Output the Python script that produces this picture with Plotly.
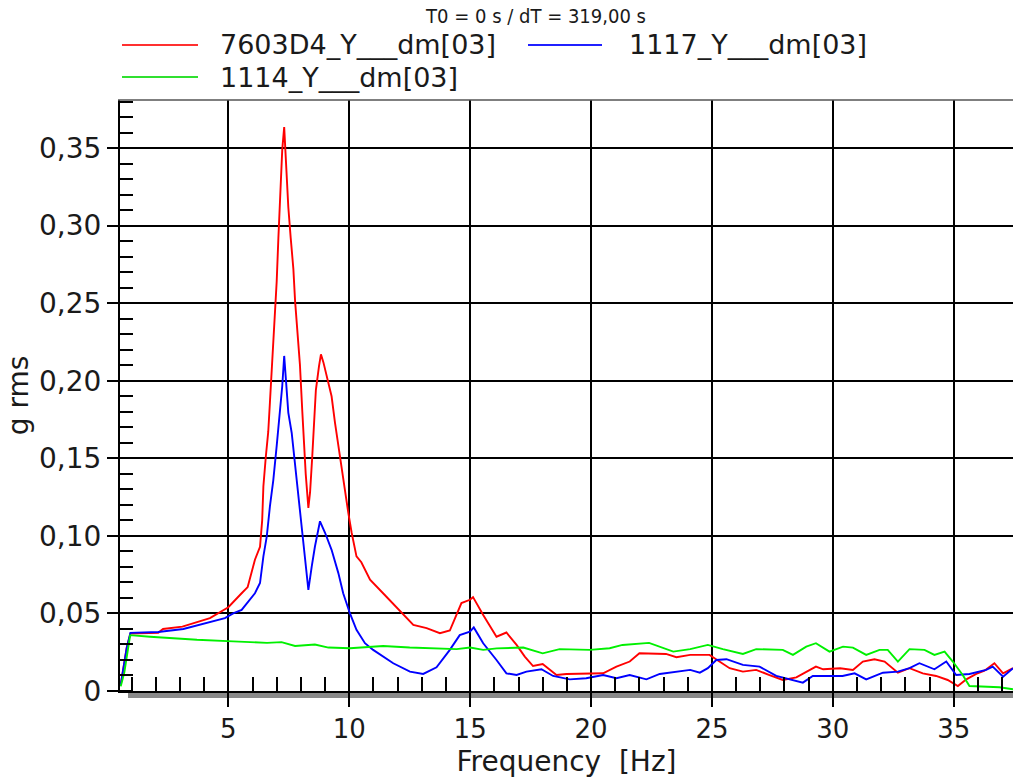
import plotly.graph_objects as go

# ---------------- data ----------------
red_name = "7603D4_Y___dm[03]"
blue_name = "1117_Y___dm[03]"
green_name = "1114_Y___dm[03]"

red_f = [0.55, 0.7, 0.8, 0.95, 2.1, 2.3, 3.1, 4.24, 4.86, 5.0, 5.55, 5.8, 6.1, 6.31, 6.4, 6.45,
         6.55, 6.65, 6.72, 6.79, 6.9, 7.0, 7.07, 7.14, 7.23, 7.31, 7.41, 7.48, 7.58, 7.69, 7.76,
         7.87, 7.96, 8.06, 8.12, 8.2, 8.31, 8.38, 8.47, 8.55, 8.62, 8.75, 8.83, 8.93, 9.07, 9.16,
         9.27, 9.41, 9.55, 9.69, 9.82, 9.96, 10.1, 10.3, 10.5, 10.86, 11.4, 12.1, 12.65, 13.2,
         13.75, 14.16, 14.64, 14.99, 15.12, 15.54, 16.09, 16.5, 16.92, 17.26, 17.6, 18.0, 18.57,
         18.98, 20.5, 21.05, 21.6, 22.0, 23.1, 23.53, 24.1, 24.9, 25.73, 26.28, 26.83, 27.38,
         27.93, 28.49, 29.3, 29.6, 30.3, 30.83, 31.24, 31.72, 32.14, 32.69, 33.17, 33.72, 34.27,
         34.75, 35.17, 35.52, 35.93, 36.27, 36.68, 37.04, 37.45]
red_v = [0.004, 0.018, 0.028, 0.037, 0.0375, 0.040, 0.0415, 0.047, 0.0523, 0.054, 0.063, 0.067,
         0.0846, 0.093, 0.110, 0.132, 0.151, 0.167, 0.186, 0.205, 0.235, 0.264, 0.292, 0.320,
         0.349, 0.3635, 0.332, 0.312, 0.292, 0.272, 0.2515, 0.231, 0.2106, 0.180, 0.160, 0.140,
         0.118, 0.128, 0.151, 0.175, 0.194, 0.2095, 0.217, 0.212, 0.203, 0.199, 0.190, 0.173,
         0.158, 0.143, 0.128, 0.115, 0.102, 0.0868, 0.083, 0.0717, 0.063, 0.0512, 0.0426, 0.0405,
         0.0373, 0.039, 0.0567, 0.0588, 0.0605, 0.049, 0.035, 0.0377, 0.0297, 0.0222, 0.0161,
         0.0174, 0.0103, 0.011, 0.0114, 0.0157, 0.019, 0.0243, 0.0239, 0.0218, 0.0233, 0.0233,
         0.0147, 0.0125, 0.0136, 0.0103, 0.0071, 0.0088, 0.0157, 0.014, 0.0147, 0.0136, 0.019,
         0.0205, 0.019, 0.0118, 0.0147, 0.0114, 0.0097, 0.0071, 0.0032, 0.0075, 0.011, 0.0131,
         0.0179, 0.0114, 0.0147]

blue_f = [0.55, 0.7, 0.8, 0.95, 2.1, 3.14, 4.24, 4.86, 5.2, 5.55, 6.1, 6.31, 6.45, 6.59, 6.72,
          6.86, 7.0, 7.14, 7.23, 7.31, 7.41, 7.48, 7.62, 7.76, 7.89, 8.03, 8.17, 8.31, 8.45,
          8.58, 8.79, 9.0, 9.27, 9.55, 9.75, 10.03, 10.3, 10.65, 10.99, 11.82, 12.51, 13.06,
          13.61, 14.16, 14.57, 14.99, 15.15, 15.54, 16.09, 16.5, 16.92, 17.33, 17.95, 18.43,
          19.12, 19.8, 20.5, 21.05, 21.6, 22.29, 22.84, 23.53, 24.1, 24.5, 24.83, 25.18, 25.6,
          26.28, 26.97, 27.66, 28.2, 28.76, 29.17, 30.4, 30.9, 31.38, 32.07, 32.69, 33.17,
          33.58, 34.2, 34.69, 35.1, 35.65, 36.34, 36.61, 37.04, 37.45]
blue_v = [0.004, 0.018, 0.028, 0.0375, 0.038, 0.040, 0.0448, 0.047, 0.050, 0.0523, 0.063,
          0.0696, 0.0868, 0.0997, 0.119, 0.136, 0.158, 0.179, 0.1966, 0.216, 0.196, 0.1795,
          0.1665, 0.145, 0.128, 0.106, 0.0846, 0.0652, 0.0803, 0.093, 0.1094, 0.102, 0.091,
          0.076, 0.063, 0.050, 0.0394, 0.0308, 0.0265, 0.0179, 0.0125, 0.011, 0.0153, 0.0265,
          0.036, 0.0383, 0.041, 0.0308, 0.020, 0.0114, 0.0103, 0.0125, 0.014, 0.0097, 0.0075,
          0.0082, 0.0103, 0.0082, 0.0103, 0.0075, 0.011, 0.0125, 0.0136, 0.0118, 0.0147, 0.020,
          0.0205, 0.0168, 0.0157, 0.0097, 0.0075, 0.0054, 0.0097, 0.0097, 0.0114, 0.0075,
          0.0118, 0.0125, 0.0147, 0.0179, 0.014, 0.019, 0.0103, 0.011, 0.0136, 0.0157, 0.0092,
          0.0147]

green_f = [0.55, 0.7, 0.8, 0.94, 1.76, 3.7, 5.2, 6.6, 7.2, 7.76, 8.58, 9.14, 10.03, 11.4, 12.5,
           14.44, 15.0, 15.54, 16.1, 17.2, 18.0, 18.7, 19.95, 20.77, 21.3, 22.15, 22.4, 23.4,
           24.1, 24.83, 25.45, 26.28, 26.83, 27.93, 28.35, 28.9, 29.3, 29.86, 30.42, 30.83,
           31.38, 31.93, 32.27, 32.69, 33.17, 33.79, 34.2, 34.62, 34.96, 35.37, 35.65, 36.89,
           37.45]
green_v = [0.003, 0.012, 0.022, 0.036, 0.035, 0.033, 0.032, 0.031, 0.0315, 0.029, 0.030, 0.028,
           0.0276, 0.029, 0.028, 0.027, 0.028, 0.0265, 0.0275, 0.028, 0.0243, 0.027, 0.0265,
           0.0276, 0.0297, 0.0308, 0.031, 0.0254, 0.027, 0.0297, 0.027, 0.0239, 0.027, 0.0265,
           0.0233, 0.0286, 0.0308, 0.0254, 0.0286, 0.028, 0.0233, 0.0265, 0.0265, 0.019, 0.027,
           0.0265, 0.0233, 0.0254, 0.019, 0.0103, 0.0032, 0.0024, 0.0011]

x_ticks = [5, 10, 15, 20, 25, 30, 35]
y_ticks = [0, 0.05, 0.10, 0.15, 0.20, 0.25, 0.30, 0.35]
y_tick_text = ["0", "0,05", "0,10", "0,15", "0,20", "0,25", "0,30", "0,35"]

title_text = "T0 = 0 s / dT = 319,00 s"
x_title = "Frequency\u00a0 [Hz]"
y_title = "g rms"

# ---------------- figure ----------------
W, H = 1013, 780
ML, MR, MT, MB = 120, 0, 100, 89
PW, PH = W - ML - MR, H - MT - MB


def px_x(px):
    """page pixel x -> paper x"""
    return (px - ML) / PW


def px_y(py):
    """page pixel y -> paper y"""
    return (H - MB - py) / PH


FONT = "DejaVu Sans, Verdana, sans-serif"
series = [
    (red_name, red_f, red_v, "#ff0000"),
    (blue_name, blue_f, blue_v, "#0000ff"),
    (green_name, green_f, green_v, "#00f000"),
]

fig = go.Figure()
for name, f, v, c in series:
    fig.add_trace(go.Scatter(x=f, y=v, mode="lines", name=name,
                             line=dict(color=c, width=1.9), showlegend=False))

shapes = []
annotations = []
# manual legend
legend_items = [
    (red_name, "#ff3030", 122, 198, 45, 218),
    (blue_name, "#2020ff", 528, 602, 45, 627),
    (green_name, "#30e030", 122, 198, 77, 218),
]
for name, c, x0, x1, yy, tx in legend_items:
    shapes.append(dict(type="line", xref="paper", yref="paper",
                       x0=px_x(x0), x1=px_x(x1), y0=px_y(yy), y1=px_y(yy),
                       line=dict(color=c, width=2)))
    annotations.append(dict(text=name, xref="paper", yref="paper", x=px_x(tx), y=px_y(yy),
                            xanchor="left", yanchor="middle", showarrow=False,
                            font=dict(family=FONT, size=27, color="#1a1a1a")))

# top border of plot frame
shapes.append(dict(type="line", xref="paper", yref="paper", x0=px_x(118), x1=1,
                   y0=1, y1=1, line=dict(color="#555555", width=1.5)))
# grey shadow under x axis
shapes.append(dict(type="rect", xref="paper", yref="paper", x0=px_x(128), x1=1,
                   y0=px_y(698), y1=px_y(692), fillcolor="#8a8a8a",
                   line=dict(width=0), layer="below"))

fig.update_layout(
    width=W, height=H,
    margin=dict(l=ML, r=MR, t=MT, b=MB, autoexpand=False),
    paper_bgcolor="white", plot_bgcolor="white",
    font=dict(family=FONT, size=27, color="#1a1a1a"),
    title=dict(text=title_text, xref="paper", x=px_x(536), xanchor="center",
               yref="container", y=1 - 16 / H, yanchor="middle",
               font=dict(family="DejaVu Sans Condensed, Noto Sans, sans-serif", size=20,
                         color="#1a1a1a")),
    shapes=shapes, annotations=annotations,
    showlegend=False,
    xaxis=dict(range=[0.52, 37.45], tickvals=x_ticks,
               showgrid=True, gridcolor="black", gridwidth=2,
               zeroline=False, showline=True, linecolor="black", linewidth=2,
               ticks="outside", ticklen=14, tickwidth=2, tickcolor="black",
               tickfont=dict(size=26),
               minor=dict(dtick=1, tick0=0, ticks="inside", ticklen=14, tickwidth=2,
                          tickcolor="black", showgrid=False),
               title=dict(text=x_title, standoff=8, font=dict(size=28))),
    yaxis=dict(range=[0, 0.381], tickvals=y_ticks, ticktext=y_tick_text,
               showgrid=True, gridcolor="black", gridwidth=2,
               zeroline=False, showline=True, linecolor="black", linewidth=2,
               ticks="outside", ticklen=11, tickwidth=2, tickcolor="black",
               tickfont=dict(size=28),
               minor=dict(dtick=0.01, tick0=0, ticks="inside", ticklen=13, tickwidth=2,
                          tickcolor="black", showgrid=False),
               title=dict(text=y_title, standoff=2, font=dict(size=28))),
)

fig.write_html(
    "out.html",
    config={"displayModeBar": False},
    post_script="document.body.style.margin='0';document.body.style.overflow='hidden';",
)
